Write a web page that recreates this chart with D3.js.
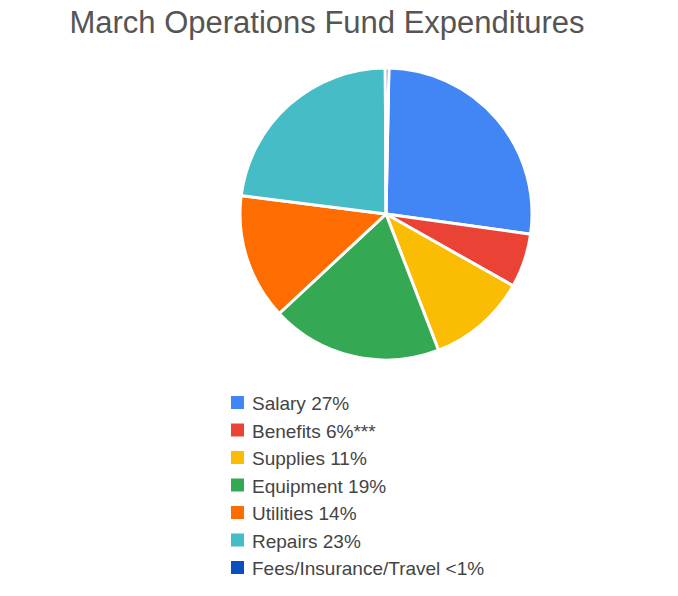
<!DOCTYPE html>
<html><head><meta charset="utf-8">
<script src="https://cdn.jsdelivr.net/npm/d3@7"></script>
<style>body{margin:0;background:#fff;font-family:"Liberation Sans",Arial,sans-serif}</style>
</head><body><svg id="c" width="678" height="596"></svg>
<script>
const categories = ['Salary', 'Benefits', 'Supplies', 'Equipment', 'Utilities', 'Repairs', 'Fees/Insurance/Travel'];
const values = [27, 6, 11, 19, 14, 23, 0.4];
const labels = ['Salary 27%', 'Benefits 6%***', 'Supplies 11%', 'Equipment 19%', 'Utilities 14%', 'Repairs 23%', 'Fees/Insurance/Travel <1%'];
const colors = ['#4285f4', '#ea4335', '#fbbc04', '#34a853', '#ff6d01', '#46bdc6', '#0b4fbf'];

const svg = d3.select('#c');
svg.append('text').attr('x', 327).attr('y', 33).attr('text-anchor', 'middle')
  .attr('font-size', 31).attr('fill', '#555').text('March Operations Fund Expenditures');

const pie = d3.pie().sort(null).value(d => d).startAngle(0.02).endAngle(2 * Math.PI + 0.02)(values);
const arc = d3.arc().innerRadius(0).outerRadius(146);
const g = svg.append('g').attr('transform', 'translate(386,214)');
g.selectAll('path').data(pie).enter().append('path')
  .attr('d', arc).attr('fill', (d, i) => colors[i])
  .attr('stroke', '#fff').attr('stroke-width', 3);

const y = d3.scalePoint().domain(categories).range([403, 568]);
const leg = svg.append('g').selectAll('g').data(categories).enter().append('g')
  .attr('transform', d => `translate(231,${y(d)})`);
leg.append('rect').attr('x', 0).attr('y', -7).attr('width', 13).attr('height', 13)
  .attr('fill', (d, i) => colors[i]);
leg.append('text').attr('x', 21).attr('y', 7).attr('font-size', 19).attr('fill', '#444')
  .text((d, i) => labels[i]);
</script></body></html>
